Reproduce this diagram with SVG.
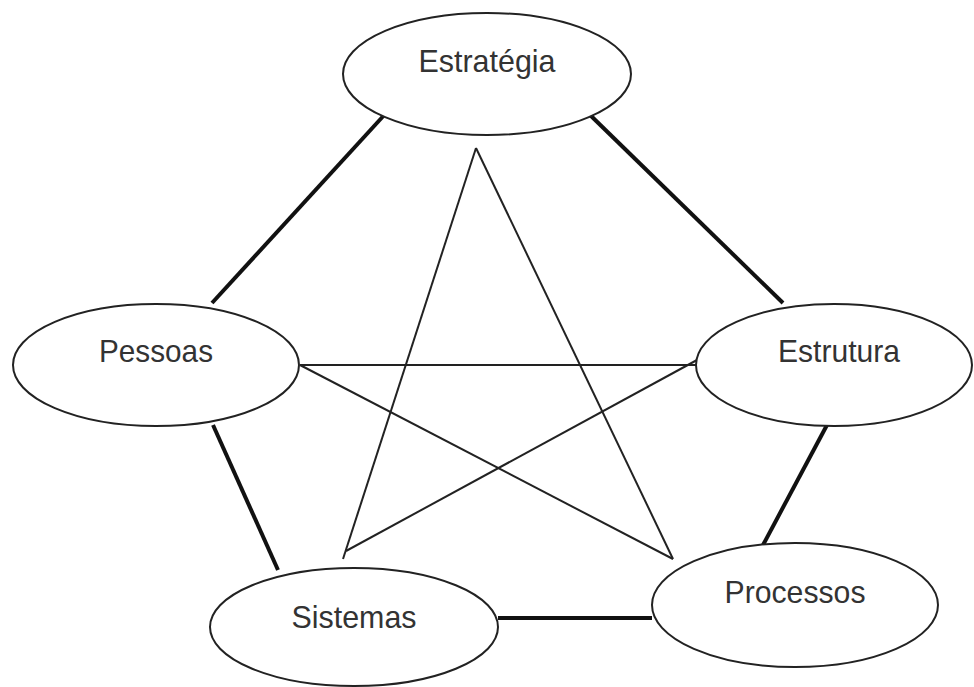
<svg xmlns="http://www.w3.org/2000/svg" width="974" height="687" viewBox="0 0 974 687">
<style>
.n{fill:#fff;stroke:#222;stroke-width:2}
.t{font-family:"Liberation Sans",Arial,sans-serif;font-size:32px;fill:#333;text-anchor:middle}
.thick{stroke:#111;stroke-width:4;fill:none}
.thin{stroke:#222;stroke-width:2;fill:none}
</style>
<rect width="974" height="687" fill="#fff"/>
<g id="connectors">
<line class="thick" x1="387" y1="112" x2="212" y2="303"/>
<line class="thick" x1="587" y1="112" x2="783" y2="303"/>
<line class="thick" x1="213" y1="425" x2="278" y2="570"/>
<line class="thick" x1="827" y1="425" x2="763" y2="545"/>
<line class="thick" x1="498" y1="618" x2="652" y2="618"/>
<line class="thin" x1="300" y1="365" x2="696" y2="365"/>
<line class="thin" x1="300" y1="365" x2="673" y2="559"/>
<line class="thin" x1="476" y1="148" x2="673" y2="559"/>
<line class="thin" x1="476" y1="148" x2="343" y2="559"/>
<line class="thin" x1="697" y1="360" x2="346" y2="551"/>
</g>
<g id="estrategia">
<ellipse class="n" cx="487" cy="74" rx="144" ry="61"/>
<text class="t" x="487" y="72" textLength="137" lengthAdjust="spacingAndGlyphs">Estratégia</text>
</g>
<g id="pessoas">
<ellipse class="n" cx="156" cy="365" rx="143" ry="61"/>
<text class="t" x="156" y="362" textLength="114" lengthAdjust="spacingAndGlyphs">Pessoas</text>
</g>
<g id="estrutura">
<ellipse class="n" cx="834" cy="365" rx="138" ry="61"/>
<text class="t" x="839" y="362" textLength="122" lengthAdjust="spacingAndGlyphs">Estrutura</text>
</g>
<g id="sistemas">
<ellipse class="n" cx="354" cy="627" rx="144" ry="59"/>
<text class="t" x="354" y="628" textLength="125" lengthAdjust="spacingAndGlyphs">Sistemas</text>
</g>
<g id="processos">
<ellipse class="n" cx="795" cy="605" rx="143" ry="62"/>
<text class="t" x="795" y="603" textLength="141" lengthAdjust="spacingAndGlyphs">Processos</text>
</g>
</svg>
